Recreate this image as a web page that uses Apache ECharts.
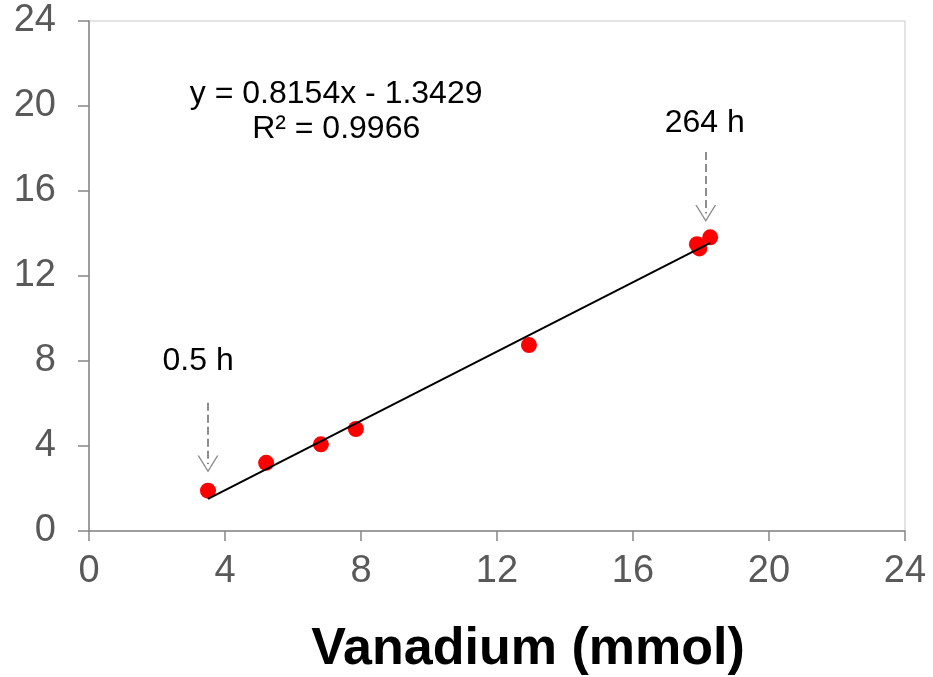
<!DOCTYPE html>
<html><head><meta charset="utf-8">
<script src="https://cdn.jsdelivr.net/npm/echarts@6/dist/echarts.min.js"></script>
<style>html,body{margin:0;padding:0;background:#fff}#c{width:933px;height:677px}</style>
</head><body><div id="c"></div>
<script>
const xVals = [3.5, 5.21, 6.82, 7.85, 12.94, 17.88, 17.95, 18.27];
const yVals = [1.9, 3.21, 4.08, 4.8, 8.75, 13.5, 13.3, 13.82];
const slope = 0.8154, intercept = -1.3429;
const trendRange = [3.5, 18.27];
const ticks = [0, 4, 8, 12, 16, 20, 24];
const eqText = 'y = 0.8154x - 1.3429';
const r2Text = 'R² = 0.9966';
const annotations = [
  {x: 7.27, y: 20.55, text: eqText},
  {x: 7.27, y: 18.9, text: r2Text},
  {x: 18.11, y: 19.2, text: '264 h'},
  {x: 3.21, y: 8.0, text: '0.5 h'}
];
const arrows = [
  [[18.14, 17.84], [18.14, 14.94]],
  [[3.5, 6.04], [3.5, 3.15]]
];
const xTitle = 'Vanadium (mmol)';

const chart = echarts.init(document.getElementById('c'));
const font = 'Liberation Sans, Arial, sans-serif';
const chevron = 'path://M0,12 L10,0 L20,12 L18.5,12 L10,1.8 L1.5,12 Z';
chart.setOption({
  animation: false,
  grid: {left: 89, right: 28, top: 21, bottom: 146, show: true, borderColor: '#c8c8c8', borderWidth: 1},
  xAxis: {
    type: 'value', min: 0, max: 24, interval: 4,
    axisLine: {onZero: false, lineStyle: {color: '#868686', width: 1.5}},
    axisTick: {show: true, length: 10, lineStyle: {color: '#868686', width: 1.5}},
    axisLabel: {color: '#595959', fontSize: 38, fontFamily: font, margin: 22},
    splitLine: {show: false}
  },
  yAxis: {
    type: 'value', min: 0, max: 24, interval: 4,
    axisLine: {show: true, onZero: false, lineStyle: {color: '#868686', width: 1.5}},
    axisTick: {show: true, length: 11, lineStyle: {color: '#868686', width: 1.5}},
    axisLabel: {color: '#595959', fontSize: 38, fontFamily: font, margin: 33},
    splitLine: {show: false}
  },
  series: [
    {
      type: 'line', data: trendRange.map(x => [x, slope * x + intercept]),
      symbol: 'none', lineStyle: {color: '#000', width: 2}, z: 3
    },
    {
      type: 'scatter', data: xVals.map((x, i) => [x, yVals[i]]),
      symbolSize: 16, itemStyle: {color: '#ff0000', opacity: 1}, z: 2
    },
    {
      type: 'line', data: [], silent: true,
      markLine: {
        silent: true, symbol: ['none', chevron], symbolSize: [21, 17],
        lineStyle: {color: '#8c8c8c', type: [8, 4], width: 2},
        label: {show: false},
        data: arrows.map(a => [{coord: a[0]}, {coord: a[1]}])
      }
    }
  ]
});
const texts = annotations.map(a => {
  const p = chart.convertToPixel({gridIndex: 0}, [a.x, a.y]);
  return {
    type: 'text', x: p[0], y: p[1],
    style: {text: a.text, font: '32px ' + font, fill: '#000', textAlign: 'center', textVerticalAlign: 'middle'}
  };
});
texts.push({
  type: 'text', x: 528, y: 650,
  style: {text: xTitle, font: 'bold 52px ' + font, fill: '#000', textAlign: 'center', textVerticalAlign: 'middle'}
});
chart.setOption({graphic: texts});
</script></body></html>
